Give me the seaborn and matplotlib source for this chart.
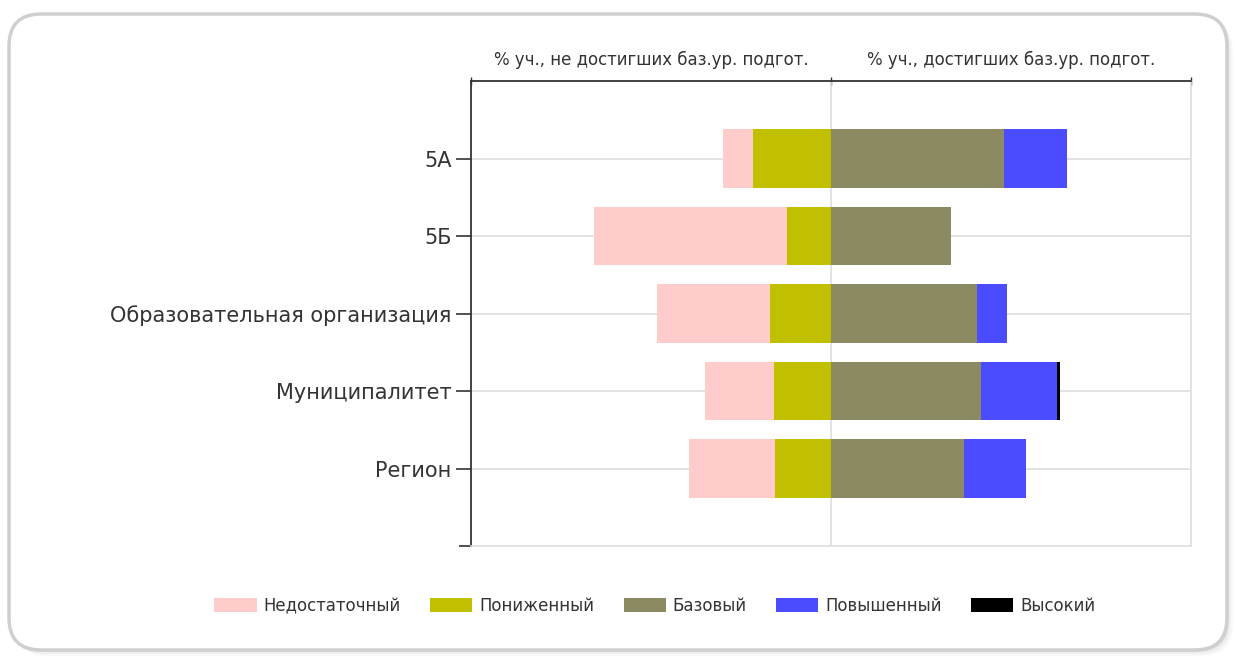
import matplotlib
matplotlib.use("Agg")
import numpy as np
import pandas as pd
import seaborn as sns
import matplotlib.pyplot as plt
from matplotlib import font_manager
from matplotlib.patches import Patch, FancyBboxPatch

categories = ['5А', '5Б', 'Образовательная организация', 'Муниципалитет', 'Регион']
levels = ['Недостаточный', 'Пониженный', 'Базовый', 'Повышенный', 'Высокий']
nedost = [8.3, 53.6, 31.4, 19.2, 23.9]
ponizh = [21.7, 12.2, 16.9, 15.8, 15.6]
bazov = [48.1, 33.3, 40.6, 41.7, 36.9]
povysh = [17.5, 0.0, 8.3, 21.2, 17.2]
vysok = [0.0, 0.0, 0.0, 0.6, 0.2]
top_left_label = '% уч., не достигших баз.ур. подгот.'
top_right_label = '% уч., достигших баз.ур. подгот.'

colors = {
    'Недостаточный': '#ffcccc',
    'Пониженный': '#c0bf00',
    'Базовый': '#8c8a62',
    'Повышенный': '#4b4bff',
    'Высокий': '#000000',
}

sns.set_theme(style="white")
plt.rcParams['font.family'] = ['DejaVu Sans']

has_cond = any(f.name == 'DejaVu Sans' and f.stretch == 'condensed'
               for f in font_manager.fontManager.ttflist)
small_size = 13.2 if has_cond else 11.5
small_font = font_manager.FontProperties(family='DejaVu Sans', stretch='condensed', size=small_size)

df = pd.DataFrame({'cat': categories, 'n': nedost, 'p': ponizh, 'b': bazov,
                   'v': povysh, 'h': vysok})
df['left_all'] = -(df['n'] + df['p'])
df['left_p'] = -df['p']
df['right_all'] = df['b'] + df['v'] + df['h']
df['right_bv'] = df['b'] + df['v']
df['right_b'] = df['b']

fig = plt.figure(figsize=(12.35, 6.57), dpi=100)

# rounded frame behind everything
bg = fig.add_axes([0, 0, 1, 1], zorder=-5)
bg.set_xlim(0, 1235)
bg.set_ylim(0, 657)
bg.axis('off')
for off, a in [(6, 0.05), (4, 0.08), (2, 0.12)]:
    bg.add_patch(FancyBboxPatch((9 + off, 7 - off), 1218, 636, boxstyle='round,pad=0,rounding_size=32',
                                facecolor='#888888', edgecolor='none', alpha=a))
bg.add_patch(FancyBboxPatch((9, 7), 1218, 636, boxstyle='round,pad=0,rounding_size=32',
                            facecolor='white', edgecolor='#cfcfcf', linewidth=2.5))

ax = fig.add_axes([471 / 1235, 111 / 657, 720 / 1235, 465 / 657])
ax.set_facecolor('none')

bar_h = 0.76
order = [('left_all', 'Недостаточный'), ('left_p', 'Пониженный'),
         ('right_all', 'Высокий'), ('right_bv', 'Повышенный'), ('right_b', 'Базовый')]
for col, lev in order:
    sns.barplot(data=df, x=col, y='cat', orient='h', color=colors[lev], saturation=1,
                width=bar_h, ax=ax, zorder=3, linewidth=0)

ax.set_xlim(-100, 100)
ax.set_ylim(5, -1)
ax.set_xlabel('')
ax.set_ylabel('')

for i in range(len(categories)):
    ax.axhline(i, color='#dedede', lw=1.2, zorder=1)
ax.axvline(0, color='#dedede', lw=1.2, zorder=1)

ax.xaxis.tick_top()
ax.set_xticks([-100, 0, 100])
ax.set_xticklabels([])
ax.tick_params(axis='x', direction='inout', length=6, width=1, color='#333333', top=True, bottom=False)
ax.tick_params(axis='y', direction='out', length=11, width=1.2, color='#333333', left=True,
               labelsize=15, pad=3, labelcolor='#333333')
ax.set_yticks([5], minor=True)
ax.tick_params(axis='y', which='minor', direction='out', length=9, width=1.2, color='#333333', left=True)

for side in ['top', 'left']:
    ax.spines[side].set_color('#333333')
    ax.spines[side].set_linewidth(1.3)
for side in ['right', 'bottom']:
    ax.spines[side].set_color('#dedede')
    ax.spines[side].set_linewidth(1.2)

ax.text(-50, 1.045, top_left_label, transform=ax.get_xaxis_transform(), ha='center', va='center',
        fontproperties=small_font, color='#333333')
ax.text(50, 1.045, top_right_label, transform=ax.get_xaxis_transform(), ha='center', va='center',
        fontproperties=small_font, color='#333333')

handles = [Patch(facecolor=colors[l], edgecolor='none', label=l) for l in levels]
leg = fig.legend(handles=handles, loc='center', bbox_to_anchor=(655 / 1235, 1 - 606 / 657), ncol=5,
                 frameon=False, prop=small_font,
                 handlelength=2.3, handleheight=0.8, handletextpad=0.38, columnspacing=1.6)
for t in leg.get_texts():
    t.set_color('#333333')

plt.savefig('out.png', dpi=100)
